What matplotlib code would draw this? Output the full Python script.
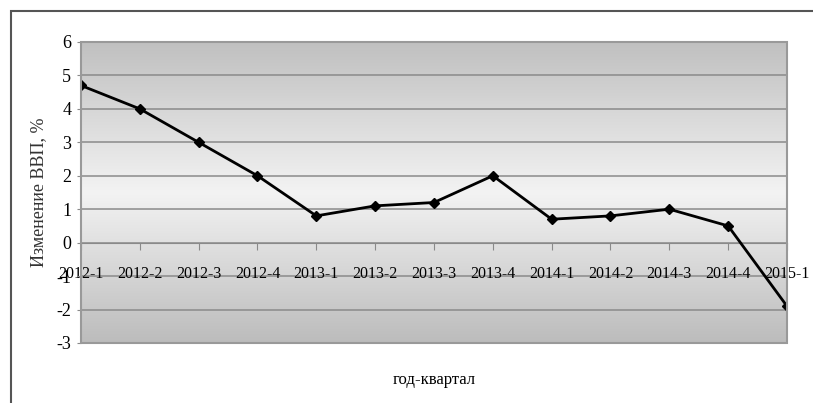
import numpy as np
import matplotlib.pyplot as plt
from matplotlib.patches import Rectangle
from matplotlib.colors import LinearSegmentedColormap

# данные: изменение ВВП по кварталам
kvartaly = ['2012-1', '2012-2', '2012-3', '2012-4', '2013-1', '2013-2', '2013-3',
            '2013-4', '2014-1', '2014-2', '2014-3', '2014-4', '2015-1']
vvp = [4.7, 4.0, 3.0, 2.0, 0.8, 1.1, 1.2, 2.0, 0.7, 0.8, 1.0, 0.5, -1.9]
y_ticks = [-3, -2, -1, 0, 1, 2, 3, 4, 5, 6]

plt.rcParams['font.family'] = ['Liberation Serif', 'DejaVu Serif']
plt.rcParams['axes.unicode_minus'] = False

fig = plt.figure(figsize=(8.13, 4.03), dpi=100)
ax = fig.add_axes([0.0996, 0.149, 0.8684, 0.7468])

# внешняя рамка
fig.patches.append(Rectangle((11 / 813, -0.1), 1.2, 1 - 11 / 403 + 0.1,
                             transform=fig.transFigure, fill=False,
                             edgecolor='#555555', linewidth=1.5))

# градиентный фон
cmap = LinearSegmentedColormap.from_list('fon', ['#bcbcbc', '#f3f3f3', '#c0c0c0'])
grad = np.linspace(0, 1, 256).reshape(-1, 1)
ax.imshow(grad, cmap=cmap, aspect='auto', extent=[0, 12, -3, 6],
          origin='lower', zorder=0)

x = np.arange(len(kvartaly))
for yv in y_ticks:
    ax.axhline(yv, color='#8a8a8a', linewidth=1.1, zorder=1)

ax.plot(x, vvp, color='black', linewidth=2, marker='D', markersize=5.5, zorder=3)

ax.set_xlim(0, 12)
ax.set_ylim(-3, 6)
ax.set_yticks(y_ticks)
ax.set_xticks(x)
ax.set_xticklabels(kvartaly)

for s in ['top', 'left', 'right']:
    ax.spines[s].set_visible(False)
ax.spines['bottom'].set_position(('data', 0))
ax.spines['bottom'].set_color('#8a8a8a')
ax.add_patch(Rectangle((0, 0), 1, 1, transform=ax.transAxes, fill=False,
                       edgecolor='#999999', linewidth=1.5, zorder=4, clip_on=False))

ax.tick_params(axis='x', direction='out', length=5, color='#8a8a8a',
               labelsize=11.5, pad=12)
ax.tick_params(axis='y', direction='out', length=3, color='#8a8a8a',
               labelsize=13, pad=4)
for lab in ax.get_xticklabels():
    lab.set_zorder(5)

ax.set_ylabel('Изменение ВВП, %', fontsize=13, color='#333333')
ax.yaxis.set_label_coords(-0.048, 0.5)
ax.set_xlabel('год-квартал', fontsize=12)
ax.xaxis.set_label_coords(0.5, -0.095)

fig.savefig('out.png', dpi=100)
